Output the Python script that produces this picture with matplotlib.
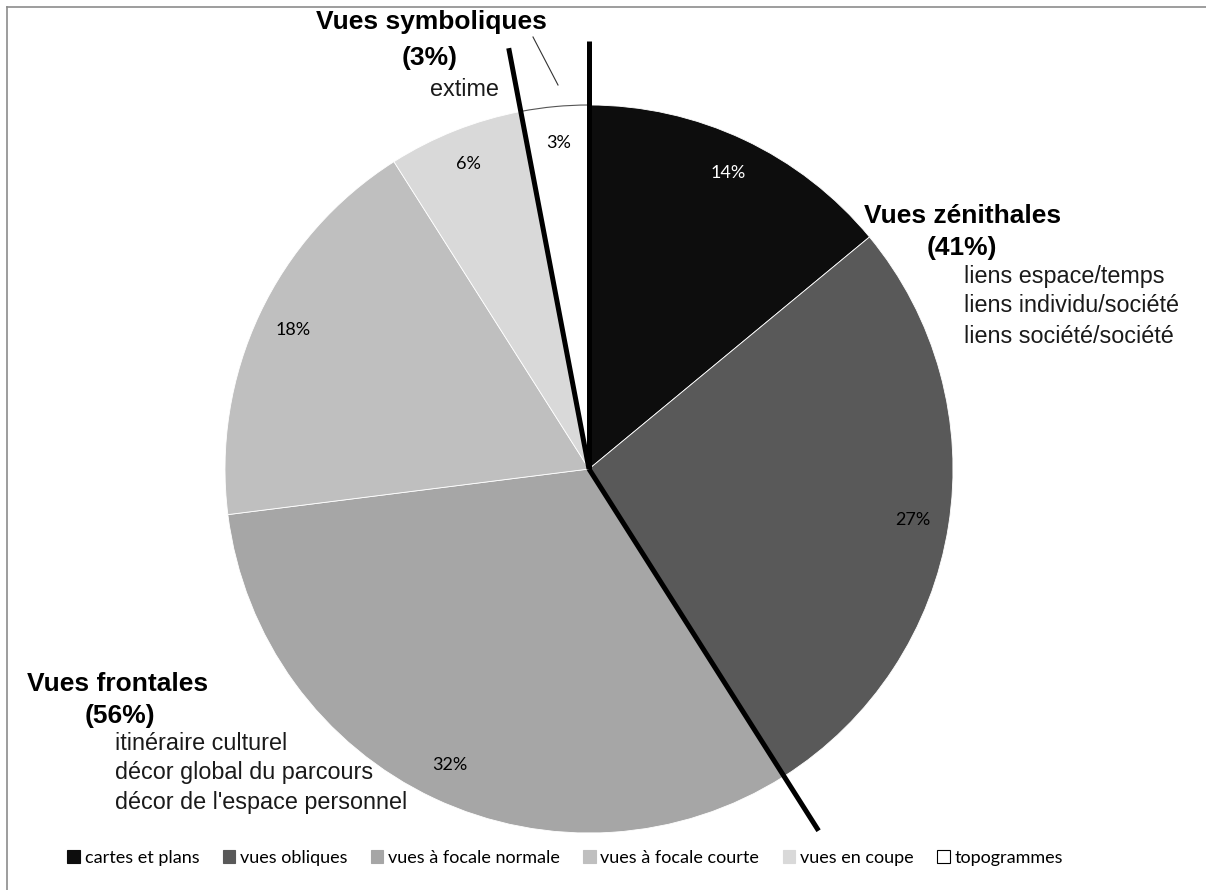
import numpy as np
import matplotlib
matplotlib.use('Agg')
import matplotlib.pyplot as plt
from matplotlib.patches import Patch
from matplotlib.lines import Line2D

# data
categories = ['cartes et plans', 'vues obliques', 'vues à focale normale',
              'vues à focale courte', 'vues en coupe', 'topogrammes']
values = [14, 27, 32, 18, 6, 3]
colors = ['#0d0d0d', '#595959', '#a6a6a6', '#bfbfbf', '#d9d9d9', '#ffffff']
pct_colors = ['white', 'black', 'black', 'black', 'black', 'black']
# groups: zénithales = slices 0-1, frontales = slices 2-4, symboliques = slice 5
# (index into the cumulative sum where each group starts)
group_starts = [0, 2, 5]

W, H = 1206, 890
CX, CY, R = 589, 469, 364

fig = plt.figure(figsize=(W / 100, H / 100), dpi=100)
ax = fig.add_axes([0, 0, 1, 1])

wedges, texts, autotexts = ax.pie(
    values, colors=colors, startangle=90, counterclock=False, radius=1,
    autopct='%d%%', pctdistance=0.9,
    wedgeprops=dict(edgecolor='white', linewidth=0.6),
    textprops=dict(fontsize=13, family='Lato'))
for t, c in zip(autotexts, pct_colors):
    t.set_color(c)
# thin gray outline for the white slice
wedges[-1].set_edgecolor('#555555')
wedges[-1].set_linewidth(0.8)

ax.set_aspect('auto')
ax.set_xlim(-CX / R, (W - CX) / R)
ax.set_ylim(-(H - CY) / R, CY / R)
ax.axis('off')

# thick separators between the groups
cum = np.concatenate([[0], np.cumsum(values)]) / sum(values)
for i in group_starts:
    ang = np.deg2rad(90 - 360 * cum[i])
    ax.plot([0, 1.177 * np.cos(ang)], [0, 1.177 * np.sin(ang)],
            color='black', lw=3.6, solid_capstyle='butt', zorder=5)


def px(x, y):
    return x / W, 1 - y / H


title_kw = dict(fontsize=19, fontweight='bold', family='Liberation Sans')
sub_kw = dict(fontsize=16.8, family='Liberation Sans', color='#1a1a1a')

# Vues symboliques
fig.text(*px(431, 22), 'Vues symboliques', ha='center', va='center', **title_kw)
fig.text(*px(430, 58), '(3%)', ha='center', va='center', **title_kw)
fig.text(*px(464, 90), 'extime', ha='center', va='center', **sub_kw)
fig.add_artist(Line2D([533 / W, 558 / W], [1 - 37 / H, 1 - 85 / H],
                      color='#333333', lw=0.8))

# Vues zénithales
fig.text(*px(864, 216), 'Vues zénithales', ha='left', va='center', **title_kw)
fig.text(*px(962, 248), '(41%)', ha='center', va='center', **title_kw)
for k, s in enumerate(['liens espace/temps', 'liens individu/société',
                       'liens société/société']):
    fig.text(*px(964, 276 + 30 * k), s, ha='left', va='center', **sub_kw)

# Vues frontales
fig.text(*px(27, 684), 'Vues frontales', ha='left', va='center', **title_kw)
fig.text(*px(120, 716), '(56%)', ha='center', va='center', **title_kw)
for k, s in enumerate(['itinéraire culturel', 'décor global du parcours',
                       "décor de l'espace personnel"]):
    fig.text(*px(115, 743 + 30 * k), s, ha='left', va='center', **sub_kw)

# legend
handles = [Patch(facecolor=c, edgecolor='black' if c == '#ffffff' else c, lw=0.8)
           for c in colors]
fig.legend(handles, categories, loc='center', bbox_to_anchor=px(565, 858),
           ncol=6, frameon=False, handlelength=0.7, handleheight=0.7,
           handletextpad=0.25, columnspacing=1.3,
           prop=dict(family='Lato', size=13))

# frame (top and left edges)
fig.add_artist(Line2D([7 / W, 1], [1 - 7 / H, 1 - 7 / H], color='#8c8c8c', lw=1.2))
fig.add_artist(Line2D([7 / W, 7 / W], [0, 1 - 7 / H], color='#8c8c8c', lw=1.2))

fig.savefig('out.png', dpi=100, facecolor='white')
